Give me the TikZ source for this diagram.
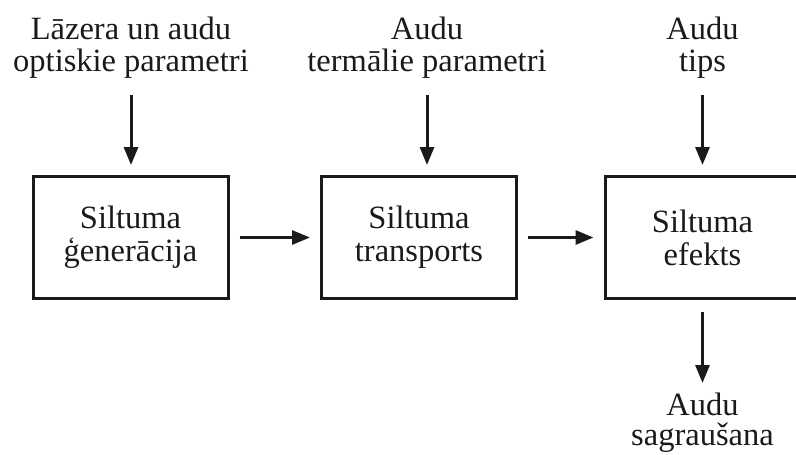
\documentclass[tikz,border=0pt]{standalone}
\usepackage{fontspec}
\setmainfont{Liberation Serif}
\usepackage{tikz}
\usetikzlibrary{arrows.meta,positioning}
\definecolor{ink}{HTML}{1A1A1A}
\tikzset{
  >={Triangle[length=18pt,width=14pt]},
  blk/.style={draw=ink,line width=3pt,minimum width=195pt,minimum height=122pt,inner sep=0pt,align=center,font=\fontsize{32.5}{33}\selectfont,text=ink},
  lab/.style={inner sep=0pt,align=center,font=\fontsize{32.5}{32}\selectfont,text=ink},
  arr/.style={->,draw=ink,line width=3pt},
}
\begin{document}
\begin{tikzpicture}[x=1pt,y=-1pt]
\useasboundingbox (0,0) rectangle (796,455);
% blocks
\node[blk] (gen) at (130.5,237.5) {Siltuma\\ģenerācija};
\node[blk] (trans) at (419,237.5) {Siltuma\\transports};
\node[blk] (eff) at (702.5,237.5) {Siltuma\\efekts};
% inputs and output
\node[lab,anchor=north] (opt) at (131,17) {Lāzera un audu\\optiskie parametri};
\node[lab,anchor=north] (term) at (427,17) {Audu\\termālie parametri};
\node[lab,anchor=north] (tips) at (702.5,17) {Audu\\tips};
\node[lab,anchor=north,font=\fontsize{32.5}{30}\selectfont] (dam) at (702.5,393) {Audu\\sagraušana};
% connectors
\draw[arr,shorten <=16pt,shorten >=10pt] (opt.south) -- (opt.south|-gen.north);
\draw[arr,shorten <=16pt,shorten >=10pt] (term.south) -- (term.south|-trans.north);
\draw[arr,shorten <=16pt,shorten >=10pt] (tips.south) -- (eff.north);
\draw[arr,shorten <=10pt,shorten >=10pt] (gen) -- (trans);
\draw[arr,shorten <=10pt,shorten >=10pt] (trans) -- (eff);
\draw[arr,shorten <=12pt,shorten >=10pt] (eff.south) -- (dam.north);
\end{tikzpicture}
\end{document}
